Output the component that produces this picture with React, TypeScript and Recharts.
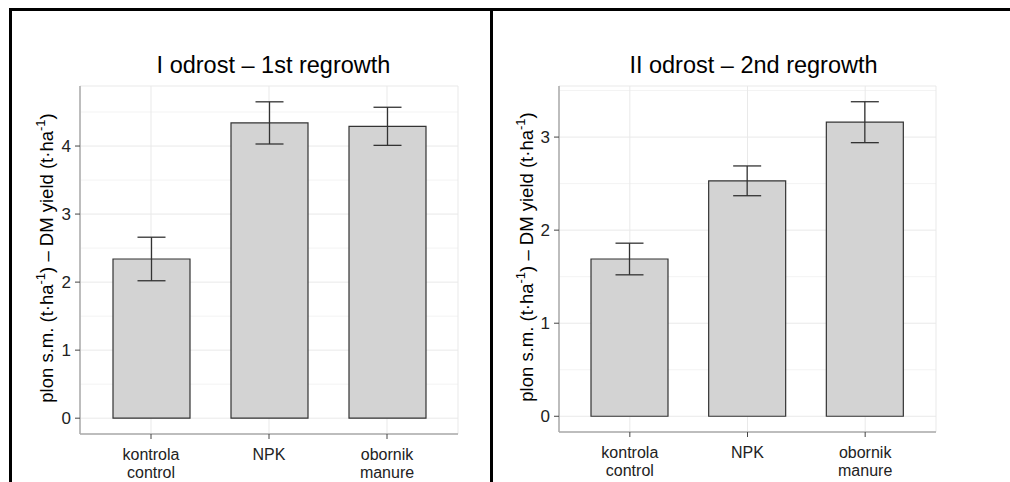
import React from 'react';
import { BarChart, Bar, XAxis, YAxis, CartesianGrid, ErrorBar } from 'recharts';

const FONT = '"Liberation Sans", Arial, Helvetica, sans-serif';

const treatmentsPl = ['kontrola', 'NPK', 'obornik'];
const treatmentsEn = ['control', '', 'manure'];

const regrowth1Yield = [2.34, 4.34, 4.29];
const regrowth1Err = [0.32, 0.31, 0.28];
const regrowth2Yield = [1.69, 2.53, 3.16];
const regrowth2Err = [0.17, 0.16, 0.22];

const regrowth1Ticks = [0, 1, 2, 3, 4];
const regrowth1Minor = [0.5, 1.5, 2.5, 3.5, 4.5];
const regrowth2Ticks = [0, 1, 2, 3];
const regrowth2Minor = [0.5, 1.5, 2.5, 3.5];

const titles = ['I odrost – 1st regrowth', 'II odrost – 2nd regrowth'];

const BORDER = '#ababab';

function TreatmentTick(props: any) {
    const { x, y, payload } = props;
    const i = treatmentsPl.indexOf(payload.value);
    return (
        <text x={x} y={y} textAnchor="middle" fill="#222" fontSize={16} fontFamily={FONT}>
            <tspan x={x} dy={19}>{treatmentsPl[i]}</tspan>
            {treatmentsEn[i] ? <tspan x={x} dy={18}>{treatmentsEn[i]}</tspan> : null}
        </text>
    );
}

interface PanelProps {
    values: number[];
    errors: number[];
    ticks: number[];
    minor: number[];
    width: number;
    margin: { top: number; right: number; bottom: number; left: number };
}

function Panel({ values, errors, ticks, minor, width, margin }: PanelProps) {
    const data = treatmentsPl.map((name, i) => ({ name, value: values[i], err: errors[i] }));
    // ggplot-style 5% expansion around 0 .. highest error bar
    const top = Math.max(...values.map((v, i) => v + errors[i]));
    const pad = top * 0.05;
    const domain = [-pad, top + pad];

    // minor grid lines (0.5 steps) placed on the same linear y range
    const minorLines = ({ offset }: any) =>
        minor.map((v) => offset.top + ((domain[1] - v) / (domain[1] - domain[0])) * offset.height);

    return (
        <BarChart width={width} height={482} data={data} margin={margin}>
            <CartesianGrid vertical={false} stroke="#f3f3f3" strokeWidth={1} horizontalCoordinatesGenerator={minorLines} />
            <CartesianGrid stroke="#e9e9e9" strokeWidth={1} />
            <XAxis
                dataKey="name"
                height={40}
                padding={{ left: 12, right: 12 }}
                axisLine={{ stroke: BORDER, strokeWidth: 1.5 }}
                tickLine={{ stroke: '#444', strokeWidth: 1 }}
                tickSize={5}
                tickMargin={2}
                interval={0}
                tick={<TreatmentTick />}
            />
            <XAxis
                xAxisId="top"
                orientation="top"
                dataKey="name"
                height={0}
                tick={false}
                tickLine={false}
                axisLine={{ stroke: BORDER, strokeWidth: 1.5 }}
            />
            <YAxis
                width={40}
                domain={domain}
                ticks={ticks}
                allowDataOverflow
                axisLine={{ stroke: BORDER, strokeWidth: 1.5 }}
                tickLine={{ stroke: '#444', strokeWidth: 1 }}
                tickSize={5}
                tickMargin={4}
                tick={{ fill: '#222', fontSize: 17, fontFamily: FONT }}
            />
            <YAxis
                yAxisId="right"
                orientation="right"
                width={0}
                domain={domain}
                tick={false}
                tickLine={false}
                axisLine={{ stroke: BORDER, strokeWidth: 1.5 }}
            />
            <Bar dataKey="value" fill="#d3d3d3" stroke="#333" strokeWidth={1.2} barSize={77} isAnimationActive={false}>
                <ErrorBar dataKey="err" width={14} stroke="#333" strokeWidth={1.3} direction="y" />
            </Bar>
        </BarChart>
    );
}

function YLabel({ x, y }: { x: number; y: number }) {
    return (
        <text
            x={x}
            y={y}
            transform={`rotate(-90 ${x} ${y})`}
            textAnchor="middle"
            dy="0.35em"
            fontSize={18.5}
            fontFamily={FONT}
            fill="#000"
        >
            plon s.m. (t·ha<tspan dy={-8} fontSize={13}>-1</tspan>
            <tspan dy={8}>) – DM yield (t·ha</tspan>
            <tspan dy={-8} fontSize={13}>-1</tspan>
            <tspan dy={8}>)</tspan>
        </text>
    );
}

export default function App() {
    return (
        <div style={{ position: 'fixed', left: 0, top: 0, width: 1010, height: 482, background: '#fff', overflow: 'hidden' }}>
            <div style={{ position: 'absolute', left: 0, top: 0 }}>
                <Panel
                    values={regrowth1Yield}
                    errors={regrowth1Err}
                    ticks={regrowth1Ticks}
                    minor={regrowth1Minor}
                    width={490}
                    margin={{ top: 86, right: 32, bottom: 8, left: 40 }}
                />
            </div>
            <div style={{ position: 'absolute', left: 492, top: 0 }}>
                <Panel
                    values={regrowth2Yield}
                    errors={regrowth2Err}
                    ticks={regrowth2Ticks}
                    minor={regrowth2Minor}
                    width={518}
                    margin={{ top: 86, right: 74, bottom: 10, left: 27 }}
                />
            </div>
            <svg width={1010} height={482} style={{ position: 'absolute', left: 0, top: 0, pointerEvents: 'none' }}>
                <text x={273.5} y={73} textAnchor="middle" fontSize={23.5} fontFamily={FONT} fill="#000">{titles[0]}</text>
                <text x={753.5} y={73} textAnchor="middle" fontSize={23.5} fontFamily={FONT} fill="#000">{titles[1]}</text>
                <YLabel x={47} y={258} />
                <YLabel x={527} y={257} />
            </svg>
            <div style={{ position: 'absolute', left: 9, top: 8, width: 1001, height: 2.5, background: '#000' }} />
            <div style={{ position: 'absolute', left: 9, top: 8, width: 2.5, height: 474, background: '#000' }} />
            <div style={{ position: 'absolute', left: 490, top: 8, width: 2.5, height: 474, background: '#000' }} />
        </div>
    );
}
